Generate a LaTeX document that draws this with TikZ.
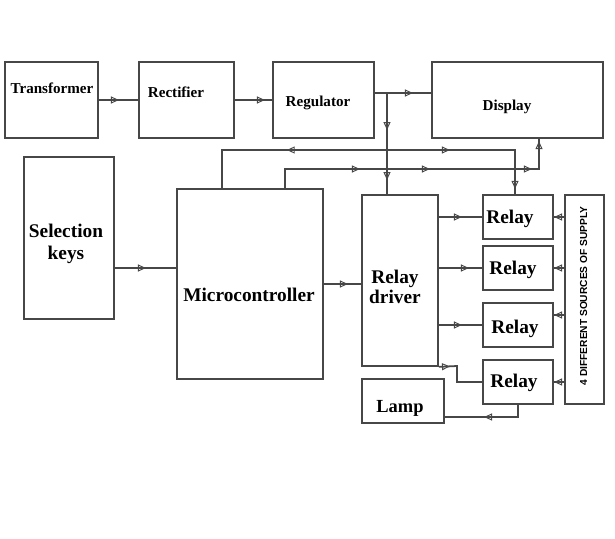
\documentclass[tikz,border=0pt]{standalone}
\usepackage{fontspec}
\setmainfont{Liberation Serif}
\setsansfont{Liberation Sans}
\usepackage{tikz}
\usetikzlibrary{arrows.meta, decorations.markings, positioning}

\colorlet{linec}{black!72}

\tikzset{
	blk/.style={draw=linec, line width=1pt, rectangle, inner sep=0pt},
	lbl/.style={font=\bfseries\fontsize{8.6}{10}\selectfont, inner sep=0pt},
	biglbl/.style={font=\bfseries\fontsize{11}{11.6}\selectfont, inner sep=0pt, align=center},
	wire/.style={draw=linec, line width=1pt},
	tipat/.style={postaction={decorate, decoration={markings, mark=at position #1 with {\arrow{Triangle[open, length=4.5pt, width=4pt, line width=0.55pt]}}}}},
	tipback/.style={postaction={decorate, decoration={markings, mark=at position #1 with {\arrowreversed{Triangle[open, length=4.5pt, width=4pt, line width=0.55pt]}}}}},
}

\begin{document}
\begin{tikzpicture}[x=0.02cm, y=-0.02cm]
		
		\useasboundingbox (0,0) rectangle (615,538);
		
		% Power supply chain
		\node[blk, minimum width=1.86cm, minimum height=1.52cm] (trf) at (51.5,100) {};
		\node[blk, minimum width=1.90cm, minimum height=1.52cm] (rect) at (186.5,100) {};
		\node[blk, minimum width=2.02cm, minimum height=1.52cm] (reg) at (323.5,100) {};
		\node[blk, minimum width=3.42cm, minimum height=1.52cm] (disp) at (517.5,100) {};
		\node[lbl] (trf-t) at (52,88) {Transformer};
		\node[lbl] (rect-t) at (176,92) {Rectifier};
		\node[lbl] (reg-t) at (318,103) {Regulator};
		\node[lbl] (disp-t) at (507,107) {Display};
		
		% Control blocks
		\node[blk, minimum width=1.80cm, minimum height=3.24cm] (keys) at (69,238) {};
		\node[blk, minimum width=2.92cm, minimum height=3.80cm] (mcu) at (250,284) {};
		\node[blk, minimum width=1.52cm, minimum height=3.42cm] (drv) at (400,280.5) {};
		\node[biglbl, font=\bfseries\fontsize{11}{12.5}\selectfont] (keys-t) at (66,244) {Selection\\keys};
		\node[biglbl] (mcu-t) at (249,295) {Microcontroller};
		\node[biglbl] (drv-t) at (395,287) {Relay\\driver};
		
		% Relays, lamp and supply
		\node[blk, minimum width=1.40cm, minimum height=0.88cm] (rl1) at (518,217) {};
		\node[blk, minimum width=1.40cm, minimum height=0.88cm] (rl2) at (518,268) {};
		\node[blk, minimum width=1.40cm, minimum height=0.88cm] (rl3) at (518,325) {};
		\node[blk, minimum width=1.40cm, minimum height=0.88cm] (rl4) at (518,382) {};
		\node[blk, minimum width=1.64cm, minimum height=0.88cm] (lamp) at (403,401) {};
		\node[blk, minimum width=0.78cm, minimum height=4.18cm] (sup) at (584.5,299.5) {};
		\node[biglbl] (rl1-t) at (510,219) {Relay};
		\node[biglbl] (rl2-t) at (513,270) {Relay};
		\node[biglbl] (rl3-t) at (515,329) {Relay};
		\node[biglbl] (rl4-t) at (514,383) {Relay};
		\node[biglbl, font=\bfseries\fontsize{10.5}{12}\selectfont] (lamp-t) at (400,408) {Lamp};
		\node[rotate=90, inner sep=0pt, font=\sffamily\bfseries\fontsize{5.8}{7}\selectfont] (sup-t) at (583.5,296) {4 DIFFERENT SOURCES OF SUPPLY};
		
		% Bends of the wires
		\coordinate (split) at (387,93);
		\coordinate (busA) at (222,150);
		\coordinate (busB) at (515,150);
		\coordinate (busC) at (285,169);
		\coordinate (busD) at (539,169);
		\coordinate (kink) at (457,366);
		
		% Supply chain wires
		\draw[wire, tipat=0.4cm] (trf.east) -- (rect.west);
		\draw[wire, tipat=0.6cm] (rect.east) -- (reg.west);
		\draw[wire, tipat=0.76cm] (reg.east |- split) -- (disp.west |- split);
		\draw[wire, tipat=0.74cm, tipat=1.74cm] (split) -- (split |- drv.north);
		
		% Microcontroller buses
		\draw[wire, tipback=2.06cm, tipat=5.32cm, tipat=7.4cm] (busA |- mcu.north) -- (busA) -- (busB) -- (busB |- rl1.north);
		\draw[wire, tipat=1.88cm, tipat=3.28cm, tipat=5.32cm, tipat=6.02cm] (busC |- mcu.north) -- (busC) -- (busD) -- (busD |- disp.south);
		\draw[wire, tipat=0.62cm] ([yshift=-0.6cm]keys.east) -- ([yshift=-0.6cm]keys.east -| mcu.west);
		\draw[wire, tipat=0.48cm] (mcu.east) -- (mcu.east -| drv.west);
		
		% Driver to relays
		\draw[wire, tipat=0.46cm] (drv.east |- rl1.west) -- (rl1.west);
		\draw[wire, tipat=0.6cm] (drv.east |- rl2.west) -- (rl2.west);
		\draw[wire, tipat=0.46cm] (drv.east |- rl3.west) -- (rl3.west);
		\draw[wire, tipat=0.22cm] (drv.south east) -- (kink) |- (rl4.west);
		
		% Supply to relays, relay to lamp
		\draw[wire, tipat=0.2cm] (sup.west |- rl1.east) -- (rl1.east);
		\draw[wire, tipat=0.2cm] (sup.west |- rl2.east) -- (rl2.east);
		\draw[wire, tipat=0.2cm] ([yshift=0.2cm]rl3.east -| sup.west) -- ([yshift=0.2cm]rl3.east);
		\draw[wire, tipat=0.2cm] (sup.west |- rl4.east) -- (rl4.east);
		\draw[wire, tipat=0.92cm] (rl4.south) |- ([yshift=-0.32cm]lamp.east);
		
	\end{tikzpicture}
\end{document}
